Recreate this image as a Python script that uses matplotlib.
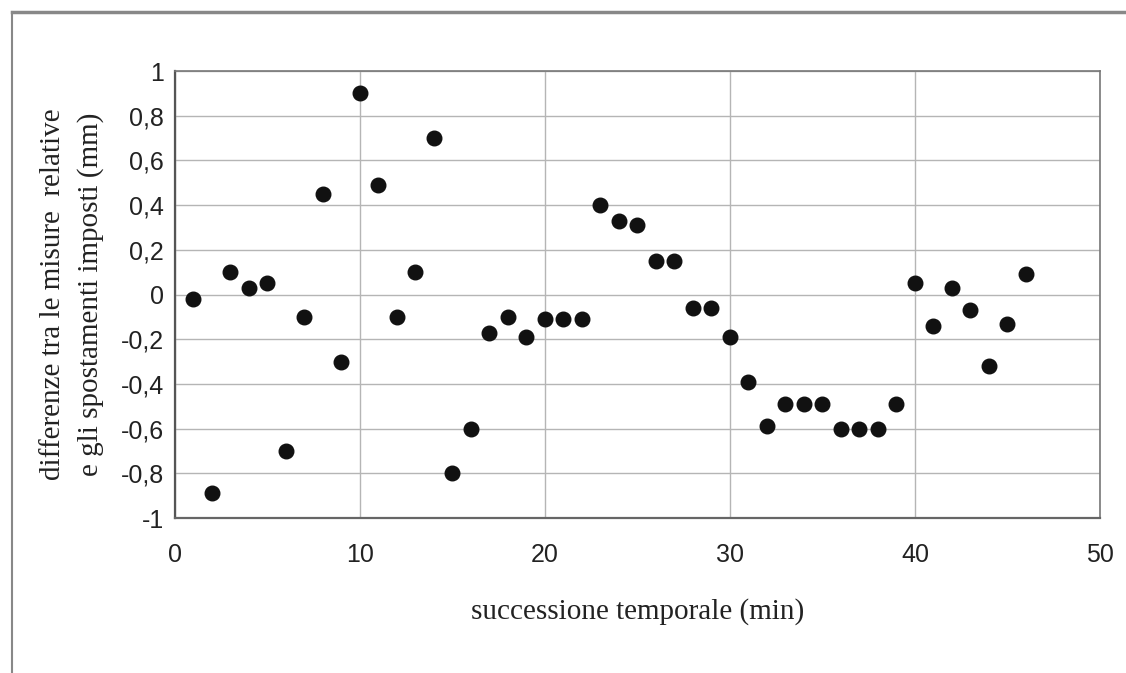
import matplotlib
matplotlib.use("Agg")
import matplotlib.pyplot as plt
from matplotlib.lines import Line2D
from matplotlib.ticker import FuncFormatter

x_min = list(range(1, 47))
diff_mm = [-0.02, -0.89, 0.10, 0.03, 0.05, -0.70, -0.10, 0.45, -0.30, 0.90,
           0.49, -0.10, 0.10, 0.70, -0.80, -0.60, -0.17, -0.10, -0.19, -0.11,
           -0.11, -0.11, 0.40, 0.33, 0.31, 0.15, 0.15, -0.06, -0.06, -0.19,
           -0.39, -0.59, -0.49, -0.49, -0.49, -0.60, -0.60, -0.60, -0.49, 0.05,
           -0.14, 0.03, -0.07, -0.32, -0.13, 0.09]
x_ticks = [0, 10, 20, 30, 40, 50]
y_ticks = [-1, -0.8, -0.6, -0.4, -0.2, 0, 0.2, 0.4, 0.6, 0.8, 1]

fig = plt.figure(figsize=(11.26, 6.73), dpi=100)
ax = fig.add_axes([0.1554, 0.2303, 0.8215, 0.6642])

ax.scatter(x_min, diff_mm, s=110, color="#111111", zorder=3)
ax.set_xlim(0, 50)
ax.set_ylim(-1, 1)
ax.set_xticks(x_ticks)
ax.set_yticks(y_ticks)

def fmt(v, pos):
    s = ("%g" % round(v, 2)).replace(".", ",")
    return s
ax.yaxis.set_major_formatter(FuncFormatter(fmt))
ax.xaxis.set_major_formatter(FuncFormatter(fmt))

ax.grid(True, color="#b5b5b5", linewidth=1.0, zorder=0)
for sp in ax.spines.values():
    sp.set_color("#777777")
    sp.set_linewidth(1.2)
ax.spines["left"].set_color("#555555")
ax.spines["left"].set_linewidth(1.6)
ax.spines["bottom"].set_color("#666666")
ax.spines["bottom"].set_linewidth(1.6)

ax.tick_params(axis="both", length=0, labelsize=18, colors="#222222")
for lab in ax.get_xticklabels() + ax.get_yticklabels():
    lab.set_family("Liberation Sans")
ax.tick_params(axis="y", pad=8)
ax.tick_params(axis="x", pad=18)

ax.set_xlabel("successione temporale (min)", family="Liberation Serif",
              fontsize=21, color="#222222", labelpad=22)
ax.set_ylabel("differenze tra le misure  relative\ne gli spostamenti imposti (mm)",
              family="Liberation Serif", fontsize=21, color="#222222",
              labelpad=12, linespacing=1.55)

# scanned frame border
fig.add_artist(Line2D([12/1126, 1], [1-12/673, 1-12/673], color="#888888",
                      linewidth=2.5, transform=fig.transFigure))
fig.add_artist(Line2D([12/1126, 12/1126], [0, 1-12/673], color="#888888",
                      linewidth=1.5, transform=fig.transFigure))

fig.savefig("out.png", dpi=100)
